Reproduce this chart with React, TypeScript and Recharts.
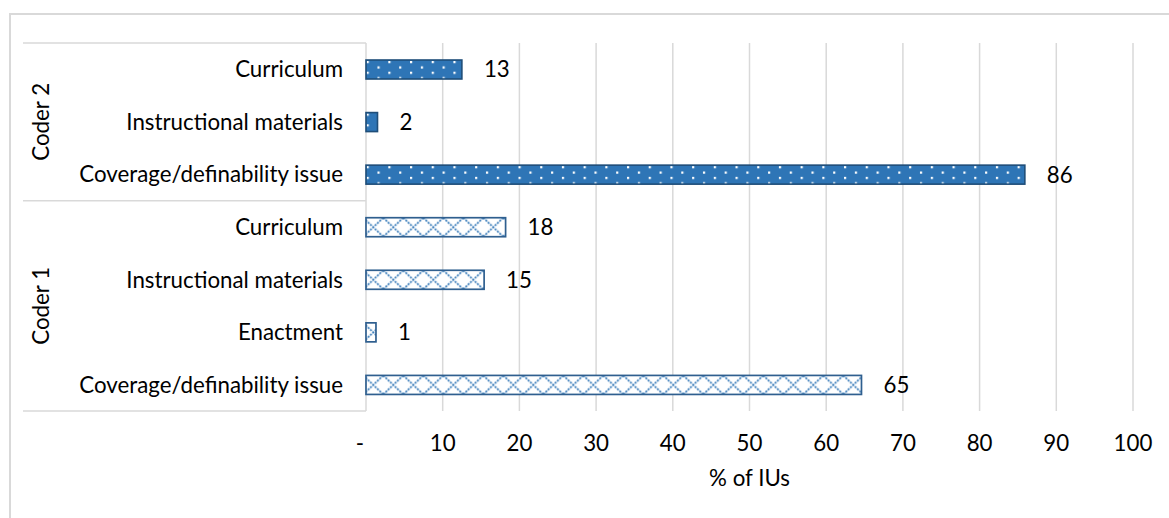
import { BarChart, Bar, XAxis, YAxis, CartesianGrid, LabelList } from "recharts";

const coder2Categories = ["Curriculum", "Instructional materials", "Coverage/definability issue"];
const coder2Values = [12.5, 1.5, 85.9];
const coder1Categories = ["Curriculum", "Instructional materials", "Enactment", "Coverage/definability issue"];
const coder1Values = [18.2, 15.4, 1.3, 64.6];
const groupLabels = ["Coder 2", "Coder 1"];
const xTicks = [0, 10, 20, 30, 40, 50, 60, 70, 80, 90, 100];
const xAxisTitle = "% of IUs";

// top of chart is first row, so Coder 2 goes first
const rows = [
  ...coder2Categories.map((name, i) => ({ name, value: coder2Values[i], group: 0 })),
  ...coder1Categories.map((name, i) => ({ name, value: coder1Values[i], group: 1 })),
];

const WIDTH = 1169;
const HEIGHT = 518;
const MARGIN = { top: 43, right: 36, bottom: 17, left: 0 };
const Y_AXIS_W = 366;
const X_AXIS_H = 90;
const PLOT_LEFT = MARGIN.left + Y_AXIS_W;
const PLOT_H = HEIGHT - MARGIN.top - MARGIN.bottom - X_AXIS_H;
const BAND = PLOT_H / rows.length;
const BOX_LEFT = 23;
const GROUP_X = 41;

const FONT = "Lato, 'Open Sans', sans-serif";
const FONT_SIZE = 22.3;
const GRID = "#d9d9d9";
const BLUE = "#2E75B6";

function CategoryTick(props: any) {
  const { x, y, payload } = props;
  const i = props.index ?? payload.index;
  const row = rows[i];
  const first = i === 0 || rows[i - 1].group !== row.group;
  const last = i === rows.length - 1;
  const count = rows.filter((r) => r.group === row.group).length;
  const groupMid = y - BAND / 2 + (count * BAND) / 2;
  return (
    <g>
      {first && (
        <line x1={BOX_LEFT} x2={PLOT_LEFT} y1={y - BAND / 2} y2={y - BAND / 2} stroke={GRID} strokeWidth={1.5} />
      )}
      {last && (
        <line x1={BOX_LEFT} x2={PLOT_LEFT} y1={y + BAND / 2} y2={y + BAND / 2} stroke={GRID} strokeWidth={1.5} />
      )}
      {first && (
        <text
          transform={`translate(${GROUP_X},${groupMid}) rotate(-90)`}
          textAnchor="middle"
          dy="0.36em"
          fontFamily={FONT}
          fontSize={FONT_SIZE}
          fill="#000"
        >
          {groupLabels[row.group]}
        </text>
      )}
      <text x={x} y={y} dy="0.36em" textAnchor="end" fontFamily={FONT} fontSize={FONT_SIZE} fill="#000">
        {payload.value}
      </text>
    </g>
  );
}

function ValueTick(props: any) {
  const { x, y, payload } = props;
  const v = payload.value;
  return (
    <text x={v === 0 ? x - 6 : x} y={y} dy="0.71em" textAnchor="middle" fontFamily={FONT} fontSize={FONT_SIZE} fill="#000">
      {v === 0 ? "-" : v}
    </text>
  );
}

function PatternBar(props: any) {
  const { x, y, width, height, payload, index } = props;
  if (!width || width <= 0) return null;
  if (payload.group === 0) {
    const id = `dots-${index}`;
    return (
      <g>
        <defs>
          <pattern id={id} patternUnits="userSpaceOnUse" x={x + 0.6} y={y + 1} width={21.7} height={10.7}>
            <rect width={21.7} height={10.7} fill={BLUE} />
            <rect x={0} y={0} width={2.2} height={2.2} fill="#fff" />
            <rect x={10.85} y={5.35} width={2.2} height={2.2} fill="#fff" />
          </pattern>
        </defs>
        <rect x={x} y={y} width={width} height={height} fill={`url(#${id})`} stroke="#1F4E79" strokeWidth={1.6} />
      </g>
    );
  }
  const id = `cross-${index}`;
  return (
    <g>
      <defs>
        <pattern id={id} patternUnits="userSpaceOnUse" x={x - 2.7} y={y} width={20} height={height}>
          <rect width={20} height={height} fill="#fff" />
          <line x1={0} y1={0} x2={20} y2={height} stroke={BLUE} strokeWidth={1.7} strokeDasharray="2 1.2" />
          <line x1={20} y1={0} x2={0} y2={height} stroke={BLUE} strokeWidth={1.7} strokeDasharray="2 1.2" />
        </pattern>
      </defs>
      <rect x={x} y={y} width={width} height={height} fill={`url(#${id})`} stroke="#2F5F8F" strokeWidth={1.7} />
    </g>
  );
}

export default function App() {
  return (
    <div style={{ position: "absolute", left: 0, top: 0, width: WIDTH, height: HEIGHT, overflow: "hidden", background: "#fff" }}>
      <div
        style={{
          position: "absolute",
          left: 9,
          top: 13,
          width: WIDTH,
          height: HEIGHT,
          borderTop: `2px solid ${GRID}`,
          borderLeft: `2px solid ${GRID}`,
        }}
      />
      <div style={{ position: "absolute", left: 0, top: 0 }}>
        <BarChart width={WIDTH} height={HEIGHT} data={rows} layout="vertical" margin={MARGIN} barSize={19}>
          <CartesianGrid horizontal={false} stroke={GRID} strokeWidth={1.5} />
          <XAxis
            type="number"
            domain={[0, 100]}
            ticks={xTicks}
            axisLine={false}
            tickLine={false}
            tickMargin={18}
            height={X_AXIS_H}
            tick={<ValueTick />}
            interval={0}
            label={{
              value: xAxisTitle,
              position: "insideBottom",
              offset: 15,
              fontFamily: FONT,
              fontSize: FONT_SIZE,
              fill: "#000",
            }}
          />
          <YAxis
            type="category"
            dataKey="name"
            width={Y_AXIS_W}
            axisLine={false}
            tickLine={false}
            tickMargin={17}
            tick={<CategoryTick />}
            interval={0}
          />
          <Bar dataKey="value" isAnimationActive={false} shape={<PatternBar />}>
            <LabelList
              dataKey="value"
              position="right"
              offset={22}
              formatter={(v: any) => Math.round(Number(v))}
              fontFamily={FONT}
              fontSize={FONT_SIZE}
              fill="#000"
            />
          </Bar>
        </BarChart>
      </div>
    </div>
  );
}
